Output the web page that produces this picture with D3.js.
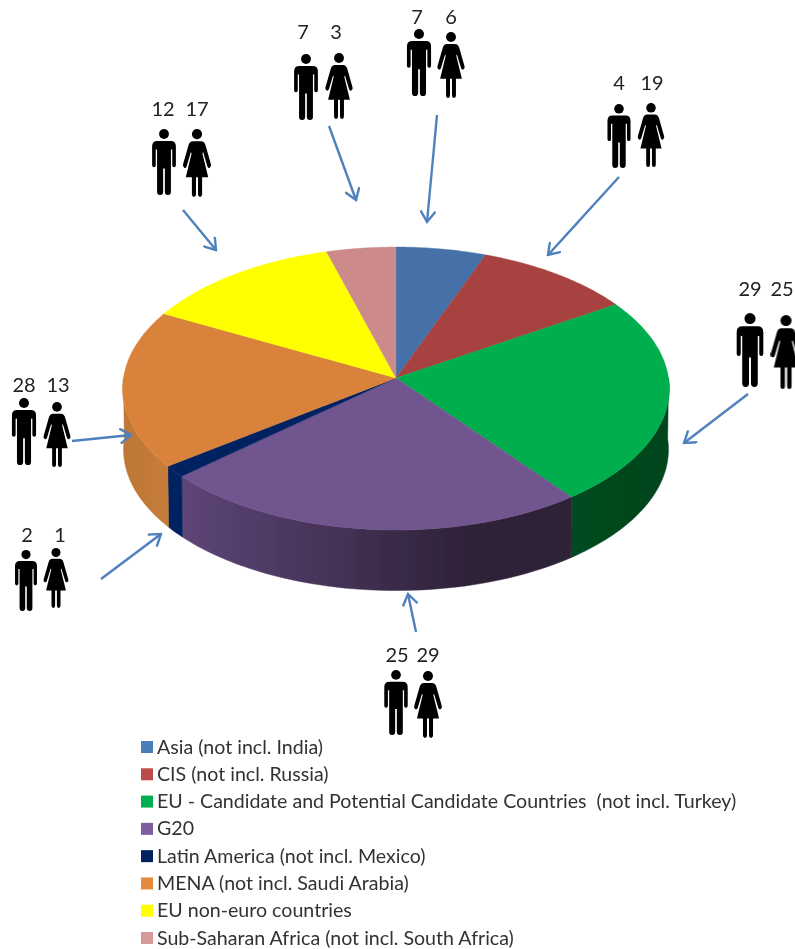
<!DOCTYPE html>
<html><head><meta charset="utf-8">
<script src="https://cdn.jsdelivr.net/npm/d3@7"></script>
<style>html,body{margin:0;padding:0;background:#fff;overflow:hidden}svg{display:block}</style>
</head><body><svg id="c" width="795" height="949"></svg>
<script>
const categories=["Asia (not incl. India)","CIS (not incl. Russia)","EU - Candidate and Potential Candidate Countries  (not incl. Turkey)","G20","Latin America (not incl. Mexico)","MENA (not incl. Saudi Arabia)","EU non-euro countries","Sub-Saharan Africa (not incl. South Africa)"];
const men=[7,4,29,25,2,28,12,7];
const women=[6,19,25,29,1,13,17,3];
const topColors=["#4470a8","#a8423f","#00ae4e","#71548f","#002060","#d9823b","#ffff00","#cc8b8a"];
const wallLeft=["#4470a8","#a8423f","#004a20","#5d4577","#002060","#bd7736","#ffff00","#cc8b8a"];
const wallRight=["#4470a8","#a8423f","#00441d","#2e2138","#002060","#c67c38","#ffff00","#cc8b8a"];
const legendColors=["#4a7ebb","#be4b48","#00b050","#7d5fa0","#002060","#e48a3c","#ffff00","#d39a99"];

// pictogram anchors: [man x, man top, man bottom, woman x, woman top, woman bottom, label y]
const groupPos=[
 [419,29,96,451,32,98,17],
 [619,104,168,651,103,167,83],
 [750,313,387,786,315,389,289],
 [396,670,735,428,671,738,655],
 [26,550,611,56,548,608,535],
 [24,398,465,57,402,467,385],
 [164,129,195,197,129,197,109],
 [306,54,120,339,53,119,32]];
const labelX=[[417,451],[619,652],[750,782],[397,428],[27,60],[24,58],[163,197],[303,336]];
const arrows=[
 [437,115,427,222],[619,177,548,255],[748,394,684,443],[416,632,408,594],
 [101,579,161,534],[72,441,131,435],[183,210,216,250],[329,126,356,200]];

const svg=d3.select("#c");
const defs=svg.append("defs");
const f=defs.append("filter").attr("id","soft").attr("x","0").attr("y","0").attr("width","100%").attr("height","100%").attr("filterUnits","userSpaceOnUse");
f.append("feGaussianBlur").attr("stdDeviation",0.6);
defs.append("marker").attr("id","ah").attr("viewBox","-12 -8 14 16").attr("refX",0).attr("refY",0)
 .attr("markerUnits","userSpaceOnUse").attr("markerWidth",14).attr("markerHeight",16).attr("orient","auto")
 .append("path").attr("d","M-11,-7.5L0,0L-11,7.5").attr("fill","none").attr("stroke","#4f81bd").attr("stroke-width",2.4);

const root=svg.append("g").attr("filter","url(#soft)");

// projection of the pie disc
const cx=396,cy=378,a=272.5,b=140.7,k=0.0743,depth=61,shrink=0.997;
const vals=men.map((m,i)=>m+women[i]);
const arcs=d3.pie().sort(null).value(d=>d)(vals);
const rim=(t,s=1,dy=0)=>{const u=Math.sin(t),v=-Math.cos(t),w=1-k*v;return [cx+s*a*u/w,cy+s*b*v/w+dy];};
const line=d3.line();
const sample=(t0,t1,s,dy)=>d3.range(0,41).map(i=>rim(t0+(t1-t0)*i/40,s,dy));

// side walls
const wallFrom=Math.PI/2,wallTo=Math.PI*1.5;
const walls=root.append("g");
arcs.forEach((d,i)=>{
  const t0=Math.max(d.startAngle,wallFrom),t1=Math.min(d.endAngle,wallTo);
  if(t1<=t0) return;
  const top=sample(t0,t1,1,0),bot=sample(t0,t1,shrink,depth).reverse();
  const id="w"+i;
  const xs=top.map(p=>p[0]);
  const g=defs.append("linearGradient").attr("id",id).attr("gradientUnits","userSpaceOnUse")
    .attr("x1",d3.min(xs)).attr("x2",d3.max(xs)).attr("y1",0).attr("y2",0);
  g.append("stop").attr("offset",0).attr("stop-color",wallLeft[i]);
  if(i===3) g.append("stop").attr("offset",0.75).attr("stop-color",wallRight[i]);
  g.append("stop").attr("offset",1).attr("stop-color",wallRight[i]);
  walls.append("path").attr("d",line(top.concat(bot))+"Z").attr("fill",`url(#${id})`)
    .attr("stroke",`url(#${id})`).attr("stroke-width",0.5);
});

// top faces
root.append("g").selectAll("path").data(arcs).join("path")
  .attr("d",d=>line([[cx,cy]].concat(sample(d.startAngle,d.endAngle,1,0)))+"Z")
  .attr("fill",(d,i)=>topColors[i]).attr("stroke",(d,i)=>topColors[i]).attr("stroke-width",0.4);

// arrows
root.append("g").selectAll("line").data(arrows).join("line")
  .attr("x1",d=>d[0]).attr("y1",d=>d[1]).attr("x2",d=>d[2]).attr("y2",d=>d[3])
  .attr("stroke","#4f81bd").attr("stroke-width",2.4).attr("marker-end","url(#ah)");

// pictograms (unit height 100)
const manD="M-10,18 H10 Q18,18 18,26 V55 Q18,58 15.2,58 Q12.5,58 12.5,55 V31 H10.5 V95 Q10.5,100 6,100 Q1.3,100 1.3,95 V60 H-1.3 V95 Q-1.3,100 -6,100 Q-10.5,100 -10.5,95 V31 H-12.5 V55 Q-12.5,58 -15.2,58 Q-18,58 -18,55 V26 Q-18,18 -10,18Z";
const womanD="M-6,18 H6 Q11,18 12.5,24 L20.5,52 Q21.5,56 18.7,57 Q16.3,58 15.3,55 L9,34 L8,36 L16.5,71 H7.5 V96 Q7.5,100 4.5,100 Q1.5,100 1.5,96 V71 H-1.5 V96 Q-1.5,100 -4.5,100 Q-7.5,100 -7.5,96 V71 H-16.5 L-8,36 L-9,34 L-15.3,55 Q-16.3,58 -18.7,57 Q-21.5,56 -20.5,52 L-12.5,24 Q-11,18 -6,18Z";
const people=root.append("g");
function figure(d,x,y0,y1){
  const s=(y1-y0)/100;
  const g=people.append("g").attr("transform",`translate(${x},${y0}) scale(${s})`).attr("fill","#000");
  g.append("circle").attr("cx",0).attr("cy",7.5).attr("r",7.5);
  g.append("path").attr("d",d);
}
groupPos.forEach(p=>{figure(manD,p[0],p[1],p[2]);figure(womanD,p[3],p[4],p[5]);});

const font="Lato, Carlito, sans-serif";
const labels=root.append("g").attr("font-family",font).attr("font-size",20).attr("fill","#222").attr("text-anchor","middle");
groupPos.forEach((p,i)=>{
  labels.append("text").attr("x",labelX[i][0]).attr("y",p[6]+7).text(men[i]);
  labels.append("text").attr("x",labelX[i][1]).attr("y",p[6]+7).text(women[i]);
});

// legend
const legendY=d3.scalePoint().domain(d3.range(categories.length)).range([747,938]);
const leg=root.append("g").selectAll("g").data(categories).join("g")
  .attr("transform",(d,i)=>`translate(141,${legendY(i)})`);
leg.append("rect").attr("x",0).attr("y",-6).attr("width",12).attr("height",12).attr("fill",(d,i)=>legendColors[i]);
leg.append("text").attr("x",16).attr("y",6.5).attr("font-family",font).attr("font-size",19.6).attr("fill","#333")
  .attr("xml:space","preserve").style("white-space","pre").text(d=>d);
</script></body></html>
